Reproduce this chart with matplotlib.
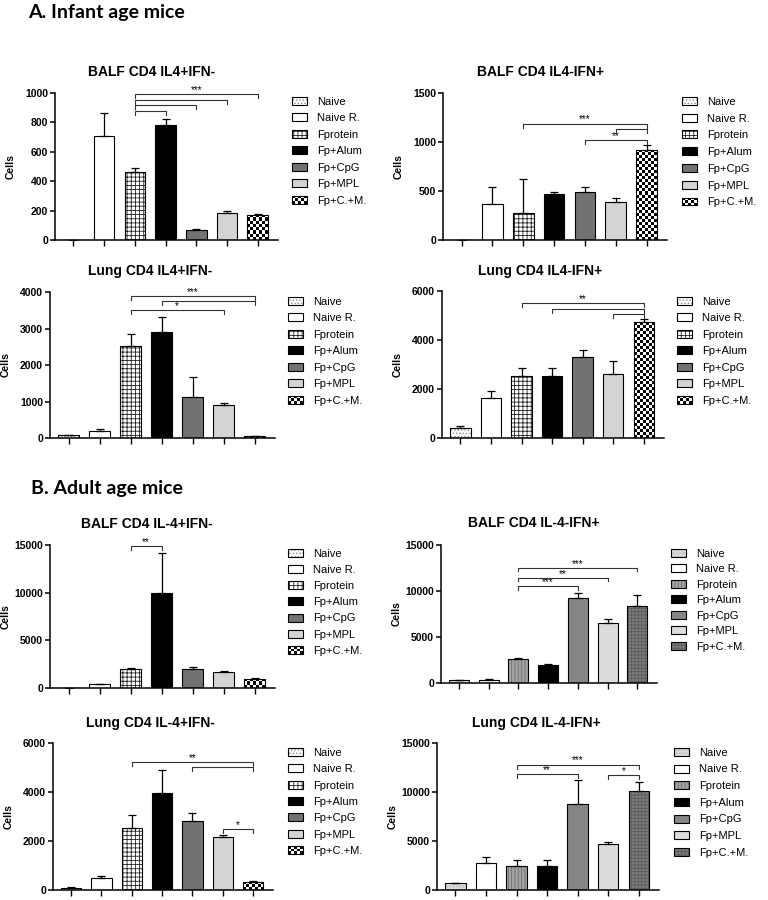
import numpy as np
import matplotlib
matplotlib.use('Agg')
import matplotlib.pyplot as plt
from matplotlib.patches import Patch, Rectangle
from matplotlib.legend_handler import HandlerBase

plt.rcParams['font.family'] = ['Liberation Sans', 'DejaVu Sans']
plt.rcParams['hatch.linewidth'] = 0.6

groups = ['Naive', 'Naive R.', 'Fprotein', 'Fp+Alum', 'Fp+CpG', 'Fp+MPL', 'Fp+C.+M.']

# A. infant age mice (mean, SEM)
inf_balf_il4 = [0, 710, 460, 780, 68, 182, 172]
inf_balf_il4_sem = [0, 155, 30, 45, 4, 18, 6]
inf_balf_ifn = [0, 363, 271, 468, 492, 383, 923]
inf_balf_ifn_sem = [0, 173, 347, 24, 44, 41, 44]
inf_lung_il4 = [73, 200, 2527, 2900, 1136, 891, 45]
inf_lung_il4_sem = [17, 45, 318, 418, 536, 64, 19]
inf_lung_ifn = [407, 1629, 2525, 2525, 3326, 2620, 4724]
inf_lung_ifn_sem = [68, 271, 325, 325, 271, 516, 122]

# B. adult age mice
ad_balf_il4 = [30, 385, 1963, 10000, 2033, 1682, 981]
ad_balf_il4_sem = [10, 70, 140, 4150, 140, 140, 70]
ad_balf_ifn = [289, 361, 2638, 1988, 9289, 6470, 8410]
ad_balf_ifn_sem = [72, 73, 73, 108, 542, 506, 1192]
ad_lung_il4 = [95, 477, 2550, 3955, 2823, 2155, 341]
ad_lung_il4_sem = [28, 109, 491, 927, 300, 109, 27]
ad_lung_ifn = [679, 2783, 2477, 2443, 8755, 4683, 10079]
ad_lung_ifn_sem = [68, 611, 543, 611, 2512, 204, 950]

# significance brackets: (group i, group j, height, label)
inf_balf_il4_sig = [(2, 3, 875, ''), (2, 4, 918, ''), (2, 5, 955, ''), (2, 6, 993, '***')]
inf_balf_ifn_sig = [(2, 6, 1188, '***'), (5, 6, 1130, ''), (4, 6, 1018, '**')]
inf_lung_il4_sig = [(2, 6, 3882, '***'), (3, 6, 3755, ''), (2, 5, 3500, '*')]
inf_lung_ifn_sig = [(2, 6, 5498, '**'), (3, 6, 5253, ''), (5, 6, 5050, '')]
ad_balf_il4_sig = [(2, 3, 14896, '**')]
ad_balf_ifn_sig = [(2, 4, 10554, '***'), (2, 5, 11458, '**'), (2, 6, 12542, '***')]
ad_lung_il4_sig = [(2, 6, 5209, '**'), (4, 6, 5005, ''), (5, 6, 2495, '*')]
ad_lung_ifn_sig = [(2, 6, 12793, '***'), (2, 4, 11809, '**'), (5, 6, 11707, '*')]

# fills: (face, hatch, hatch colour); 'checker' = black/white squares
style_a = [('white', '.....', '#8c8c8c'), ('white', None, None), ('white', '++++', '#222222'),
           ('black', None, None), ('#727272', None, None), ('#d4d4d4', None, None), 'checker']
style_b = [('#d9d9d9', '.....', '#b0b0b0'), ('white', None, None), ('#a3a3a3', '|||||', '#6e6e6e'),
           ('black', None, None), ('#868686', None, None), ('#dcdcdc', None, None),
           ('#7d7d7d', '+++++', '#5a5a5a')]

W, H = 768, 900
fig = plt.figure(figsize=(7.68, 9), dpi=100)


class CheckerHandler(HandlerBase):
    def create_artists(self, legend, orig_handle, xdescent, ydescent, width, height, fontsize, trans):
        x0, y0 = -xdescent, -ydescent
        nx, ny = 5, 3
        cw, ch = width / nx, height / ny
        arts = [Rectangle((x0, y0), width, height, facecolor='white', edgecolor='none', transform=trans)]
        for i in range(nx):
            for j in range(ny):
                if (i + j) % 2 == 0:
                    arts.append(Rectangle((x0 + i * cw, y0 + j * ch), cw, ch, facecolor='black',
                                          edgecolor='none', transform=trans))
        arts.append(Rectangle((x0, y0), width, height, fill=False, edgecolor='black', lw=0.8, transform=trans))
        return arts


def checker_fill(ax, bar, cell=3.0):
    x0, w, h = bar.get_x(), bar.get_width(), bar.get_height()
    if h <= 0:
        return
    (px0, py0), (px1, py1) = ax.transData.transform([(x0, 0), (x0 + w, h)])
    nx = max(1, int(round((px1 - px0) / cell)))
    ny = max(1, int(round((py1 - py0) / cell)))
    grid = np.indices((ny, nx)).sum(axis=0) % 2
    im = ax.imshow(grid, cmap='gray', extent=(x0, x0 + w, 0, h), origin='lower',
                   interpolation='nearest', aspect='auto', zorder=2)
    im.set_clip_path(bar)


def panel(rect, title, title_pos, means, sem, ymax, ystep, sigs, style, leg_pos, leg_gap):
    l, t, r, b = rect
    ax = fig.add_axes([l / W, 1 - b / H, (r - l) / W, (b - t) / H])
    x = np.arange(len(groups))
    ax.set_xlim(-0.6, 6.66)
    ax.set_ylim(0, ymax)
    handles = []
    hmap = {}
    for k in range(len(groups)):
        st = style[k]
        if st == 'checker':
            bar = ax.bar(x[k], means[k], width=0.67, facecolor='none', edgecolor='black', lw=0.8, zorder=3)[0]
            checker_fill(ax, bar)
            hd = Rectangle((0, 0), 1, 1)
            hmap[hd] = CheckerHandler()
            handles.append(hd)
            continue
        face, hatch, hc = st
        if hatch:
            ax.bar(x[k], means[k], width=0.67, facecolor=face, edgecolor=hc, hatch=hatch, lw=0, zorder=2)
            ax.bar(x[k], means[k], width=0.67, fill=False, edgecolor='black', lw=0.8, zorder=3)
            handles.append((Patch(facecolor=face, edgecolor=hc, hatch=hatch, lw=0),
                            Patch(fill=False, edgecolor='black', lw=0.8)))
        else:
            ax.bar(x[k], means[k], width=0.67, facecolor=face, edgecolor='black', lw=0.8, zorder=2)
            handles.append(Patch(facecolor=face, edgecolor='black', lw=0.8))
    ax.errorbar(x, means, yerr=[np.zeros(len(x)), sem], fmt='none', ecolor='black',
                elinewidth=0.9, capsize=3.2, capthick=0.9, zorder=4)
    ax.set_xlim(-0.6, 6.66)
    ax.set_ylim(0, ymax)

    tick = ymax * 0.028
    for i, j, y, lab in sigs:
        ax.plot([i, i, j, j], [y - tick, y, y, y - tick], color='#333333', lw=0.8,
                clip_on=False, zorder=5)
        if lab:
            ax.text((i + j) / 2, y + tick * 1.0, lab, ha='center', va='center',
                    fontsize=7, clip_on=False)

    ax.set_yticks(np.arange(0, ymax + 1, ystep))
    ax.set_xticks(x)
    ax.set_xticklabels([])
    ax.tick_params(axis='y', labelsize=7.5, length=3.5, width=1.1, pad=1.5)
    ax.tick_params(axis='x', length=4, width=1.0)
    for lbl in ax.get_yticklabels():
        lbl.set_fontweight('bold')
    for s in ['top', 'right']:
        ax.spines[s].set_visible(False)
    for s in ['left', 'bottom']:
        ax.spines[s].set_linewidth(1.1)
    ax.set_ylabel('Cells', fontsize=7.5, fontweight='bold')
    ax.yaxis.set_label_coords(-39 / (r - l), 0.5)

    fig.text(title_pos[0] / W, 1 - title_pos[1] / H, title, ha='center', va='baseline',
             fontsize=10, fontweight='bold')

    fs = 8
    fpx = fs * 100 / 72
    lx, ly = leg_pos
    ax.legend(handles, groups, handler_map=hmap, loc='upper left',
              bbox_to_anchor=(lx / W, 1 - (ly - 5.2) / H), bbox_transform=fig.transFigure,
              frameon=False, fontsize=fs, borderpad=0, borderaxespad=0,
              handlelength=1.35, handleheight=0.72, handletextpad=0.9,
              labelspacing=(leg_gap - 0.93 * fpx) / fpx)
    return ax


fig.text(28 / W, 1 - 18.3 / H, 'A. Infant age mice', fontsize=14, fontweight='bold',
         family=['Lato', 'DejaVu Sans'], va='baseline')
fig.text(31 / W, 1 - 494 / H, 'B. Adult age mice', fontsize=14, fontweight='bold',
         family=['Lato', 'DejaVu Sans'], va='baseline')

panel((55, 93, 278, 240), 'BALF CD4 IL4+IFN-', (152, 76), inf_balf_il4, inf_balf_il4_sem,
      1000, 200, inf_balf_il4_sig, style_a, (292, 102), 16.8)
panel((443, 93, 667, 240), 'BALF CD4 IL4-IFN+', (541, 76), inf_balf_ifn, inf_balf_ifn_sem,
      1500, 500, inf_balf_ifn_sig, style_a, (682, 102), 17.1)
panel((50, 292, 275, 438), 'Lung CD4 IL4+IFN-', (150, 275), inf_lung_il4, inf_lung_il4_sem,
      4000, 1000, inf_lung_il4_sig, style_a, (288, 302), 16.8)
panel((442, 291, 664, 438), 'Lung CD4 IL4-IFN+', (540, 275), inf_lung_ifn, inf_lung_ifn_sem,
      6000, 2000, inf_lung_ifn_sig, style_a, (677, 302), 16.8)
panel((50, 545, 275, 688), 'BALF CD4 IL-4+IFN-', (147, 528), ad_balf_il4, ad_balf_il4_sem,
      15000, 5000, ad_balf_il4_sig, style_a, (288, 554), 16.5)
panel((441, 545, 657, 683), 'BALF CD4 IL-4-IFN+', (534, 527), ad_balf_ifn, ad_balf_ifn_sem,
      15000, 5000, ad_balf_ifn_sig, style_b, (671, 554), 15.8)
panel((53, 743, 273, 890), 'Lung CD4 IL-4+IFN-', (150, 727), ad_lung_il4, ad_lung_il4_sem,
      6000, 2000, ad_lung_il4_sig, style_a, (288, 753), 16.7)
panel((437, 743, 659, 890), 'Lung CD4 IL-4-IFN+', (536, 727), ad_lung_ifn, ad_lung_ifn_sem,
      15000, 5000, ad_lung_ifn_sig, style_b, (674, 753), 17.0)

fig.savefig('out.png', dpi=100)
